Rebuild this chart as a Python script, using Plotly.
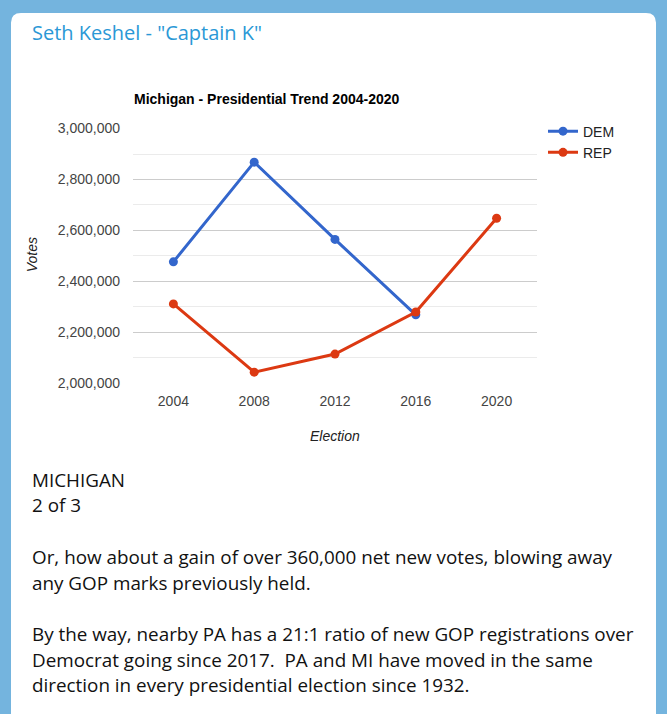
import plotly.graph_objects as go

W, H = 667, 714

elections = ["2004", "2008", "2012", "2016", "2020"]
dem_votes = [2477000, 2868000, 2565000, 2269000, None]
rep_votes = [2312000, 2044000, 2115000, 2280000, 2648000]
y_ticks = [2000000, 2200000, 2400000, 2600000, 2800000, 3000000]
y_tick_labels = ["2,000,000", "2,200,000", "2,400,000", "2,600,000", "2,800,000", "3,000,000"]

header = 'Seth Keshel - "Captain K"'
chart_title = "Michigan - Presidential Trend 2004-2020"
body_lines = [
    "MICHIGAN",
    "2 of 3",
    "",
    "Or, how about a gain of over 360,000 net new votes, blowing away",
    "any GOP marks previously held.",
    "",
    "By the way, nearby PA has a 21:1 ratio of new GOP registrations over",
    "Democrat going since 2017.  PA and MI have moved in the same",
    "direction in every presidential election since 1932.",
]

DEM_C = "#3366cc"
REP_C = "#dc3912"
AX_FONT = "Liberation Sans, Arial, sans-serif"
BODY_FONT = "Open Sans, sans-serif"


def px(x):
    return x / W


def py(y):
    return 1 - y / H


fig = go.Figure()
fig.add_trace(go.Scatter(
    x=elections, y=dem_votes, name="DEM", mode="lines+markers",
    line=dict(color=DEM_C, width=3), marker=dict(color=DEM_C, size=9),
    legendgroup="dem", connectgaps=False,
))
fig.add_trace(go.Scatter(
    x=elections, y=rep_votes, name="REP", mode="lines+markers",
    line=dict(color=REP_C, width=3), marker=dict(color=REP_C, size=9),
    legendgroup="rep",
))

# white card with rounded corners
rx, ry = 10 / W, 10 / H
x0, x1, y0, y1 = px(11), px(656), py(5), py(740)
card = (f"M {x0+rx},{y0} L {x1-rx},{y0} Q {x1},{y0} {x1},{y0-ry} "
        f"L {x1},{y1} L {x0},{y1} L {x0},{y0-ry} Q {x0},{y0} {x0+rx},{y0} Z")

annotations = [
    dict(text=header, x=px(30), y=py(25), xanchor="left", yanchor="middle",
         font=dict(family=BODY_FONT, size=20, color="#2a98d6")),
    dict(text=chart_title, x=px(132), y=py(93), xanchor="left", yanchor="middle",
         font=dict(family=AX_FONT, size=14, color="#000000", weight="bold")),
    dict(text="<i>Votes</i>", x=px(32), y=py(253), xanchor="center", yanchor="middle",
         textangle=-90, font=dict(family=AX_FONT, size=14, color="#222222")),
    dict(text="<i>Election</i>", x=px(335), y=py(438), xanchor="center", yanchor="middle",
         font=dict(family=AX_FONT, size=14, color="#222222")),
]
line_y = 482.5
for ln in body_lines:
    if ln:
        annotations.append(dict(text=ln, x=px(30), y=py(line_y), xanchor="left",
                                yanchor="middle",
                                font=dict(family=BODY_FONT, size=18.85, color="#111111")))
    line_y += 26.3
for a in annotations:
    a.update(xref="paper", yref="paper", showarrow=False)

fig.update_layout(
    width=W, height=H, margin=dict(l=0, r=0, t=0, b=0),
    paper_bgcolor="#74b4de", plot_bgcolor="#ffffff",
    shapes=[dict(type="path", path=card, xref="paper", yref="paper",
                 fillcolor="#ffffff", line=dict(width=0), layer="below")],
    annotations=annotations,
    showlegend=True,
    legend=dict(x=px(543), y=py(110), xanchor="left", yanchor="top",
                font=dict(family=AX_FONT, size=14, color="#222222"),
                bgcolor="rgba(0,0,0,0)", tracegroupgap=0),
    xaxis=dict(domain=[px(133), px(537)], type="category", range=[-0.5, 4.5],
               showgrid=False, showline=False, zeroline=False, ticks="",
               tickfont=dict(family=AX_FONT, size=14, color="#444444"),
               ticklabelstandoff=8),
    yaxis=dict(domain=[py(384), py(123.3)], range=[2000000, 3000000],
               tickvals=y_ticks, ticktext=y_tick_labels,
               showgrid=True, gridcolor="#cccccc", gridwidth=1,
               zeroline=False, showline=False, ticks="",
               minor=dict(dtick=100000, tick0=2000000, showgrid=True,
                          gridcolor="#ebebeb", gridwidth=1),
               tickfont=dict(family=AX_FONT, size=14, color="#444444"),
               ticklabelstandoff=12),
)

fig.write_html("out.html", config={"displayModeBar": False},
               post_script="document.body.style.margin='0';document.body.style.overflow='hidden';")
